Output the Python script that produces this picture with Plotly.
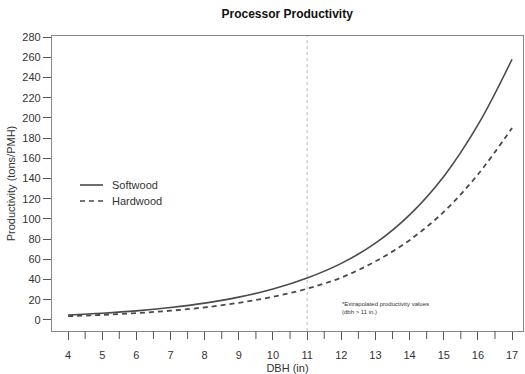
import plotly.graph_objects as go

dbh = [4, 5, 6, 7, 8, 9, 10, 11, 12, 13, 14, 15, 16, 17]
softwood = [5, 6.7, 9, 12.3, 16.7, 22.6, 30.6, 41.5, 56, 76, 104, 142, 193, 258]
hardwood = [3.8, 5, 6.8, 9.2, 12.5, 17, 23, 31, 42, 58, 79, 107, 144, 190]
series_names = ["Softwood", "Hardwood"]
x_ticks = list(range(4, 18))
x_minor = [v + 0.5 for v in range(4, 17)]
y_ticks = list(range(0, 281, 20))

FONT = "Liberation Sans, Arial, sans-serif"
TXT = "#333333"
LINE = "#4a4a4a"
DASH = "5px,4px"
L, R, T, B = 52, 2, 36, 43
W, H = 525, 374
PW, PH = W - L - R, H - T - B

def px(xp):
    return (xp - L) / PW

def py(yp):
    return (H - B - yp) / PH

fig = go.Figure()
fig.add_trace(go.Scatter(x=dbh, y=softwood, mode="lines", name=series_names[0],
                         line=dict(color=LINE, width=1.6, shape="spline", smoothing=1.0)))
fig.add_trace(go.Scatter(x=dbh, y=hardwood, mode="lines", name=series_names[1],
                         line=dict(color=LINE, width=1.8, dash=DASH, shape="spline", smoothing=1.0)))

# vertical dotted reference line at 11
fig.add_shape(type="line", xref="x", yref="paper", x0=11, x1=11, y0=0, y1=1,
              line=dict(color="#bbbbbb", width=1, dash="dot"))
# minor x ticks
for v in x_minor:
    fig.add_shape(type="line", xref="x", yref="paper", x0=v, x1=v, y0=0, y1=-8 / PH,
                  line=dict(color="#555555", width=1))

# manual legend
for i, (name, dash) in enumerate(zip(series_names, ["solid", DASH])):
    yy = 185 + 16 * i
    fig.add_shape(type="line", xref="paper", yref="paper",
                  x0=px(80), x1=px(103), y0=py(yy), y1=py(yy),
                  line=dict(color=LINE, width=1.6, dash=dash))
    fig.add_annotation(x=px(110), y=py(yy), xref="paper", yref="paper",
                       xanchor="left", yanchor="middle", text=name, showarrow=False,
                       font=dict(family=FONT, size=11, color=TXT))

fig.add_annotation(x=11.95, y=12, xref="x", yref="y", xanchor="left", yanchor="middle",
                   text="*Extrapolated productivity values<br>(dbh > 11 in.)",
                   showarrow=False, align="left",
                   font=dict(family=FONT, size=6, color=TXT))

fig.update_layout(
    width=W, height=H,
    margin=dict(l=L, r=R, t=T, b=B),
    paper_bgcolor="white", plot_bgcolor="white",
    title=dict(text="<b>Processor Productivity</b>", x=0.547, xanchor="center",
               y=0.963, yanchor="middle",
               font=dict(family=FONT, size=12, color="#111111")),
    font=dict(family=FONT, size=11, color=TXT),
    showlegend=False,
)
fig.update_xaxes(range=[3.53, 17.32], tickmode="array", tickvals=x_ticks,
                 ticks="outside", ticklen=8, tickcolor="#555555",
                 ticklabelstandoff=6,
                 showgrid=False, zeroline=False,
                 showline=True, linecolor="#888888", linewidth=1.3, mirror=True,
                 title=dict(text="DBH (in)", standoff=3, font=dict(size=11)),
                 tickfont=dict(size=11))
fig.update_yaxes(range=[-10.9, 281], tickmode="array", tickvals=y_ticks,
                 ticks="outside", ticklen=8, tickcolor="#555555",
                 showgrid=False, zeroline=False,
                 showline=True, linecolor="#888888", linewidth=1.3, mirror=True,
                 title=dict(text="Productivity (tons/PMH)", standoff=4, font=dict(size=11)),
                 tickfont=dict(size=11))

fig.write_html("out.html")
